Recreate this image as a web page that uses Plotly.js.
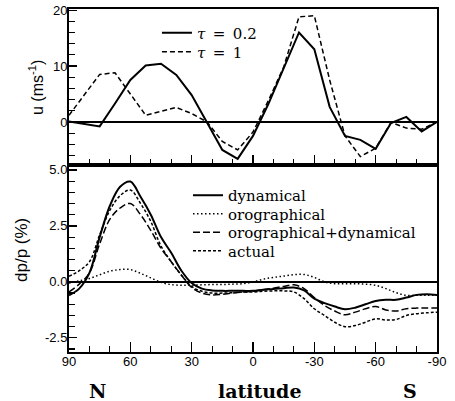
<!DOCTYPE html>
<html>
<head>
<meta charset="utf-8">
<script src="https://cdn.plot.ly/plotly-3.0.1.min.js"></script>
<style>html,body{margin:0;padding:0;background:#fff;}#chart{width:455px;height:401px;}</style>
</head>
<body>
<div id="chart"></div>
<script>
// Top panel: zonal wind u (m/s), sampled every 7.5 degrees latitude
const latTop = [90, 82.5, 75, 67.5, 60, 52.5, 45, 37.5, 30, 22.5, 15, 7.5, 0, -7.5, -15, -22.5, -30, -37.5, -45, -52.5, -60, -67.5, -75, -82.5, -90];
const uTau02 = [0.1, -0.4, -0.8, 3.3, 7.5, 10.1, 10.4, 8.4, 4.8, -0.1, -5.0, -6.6, -2.5, 3.2, 9.5, 16.0, 13.0, 2.7, -2.5, -3.2, -4.8, -0.2, 0.9, -1.7, 0.0];
const uTau1  = [1.2, 4.9, 8.5, 8.8, 5.1, 1.2, 1.9, 2.6, 1.5, 0.0, -3.5, -5.0, -1.8, 3.8, 9.8, 18.8, 19.0, 7.5, -2.5, -6.2, -4.7, -0.1, -1.1, -1.3, 0.0];

// Bottom panel: dp/p (%), sampled every 5 degrees latitude
const latBot = [90, 85, 80, 75, 70, 65, 60, 55, 50, 45, 40, 35, 30, 25, 20, 15, 10, 5, 0, -5, -10, -15, -20, -25, -30, -35, -40, -45, -50, -55, -60, -65, -70, -75, -80, -85, -90];
const dynamical = [-0.6, -0.3, 0.4, 2.0, 3.4, 4.25, 4.48, 3.8, 3.0, 2.0, 1.3, 0.5, -0.05, -0.3, -0.38, -0.4, -0.4, -0.4, -0.4, -0.35, -0.32, -0.28, -0.25, -0.38, -0.75, -0.95, -1.1, -1.22, -1.15, -1.0, -0.85, -0.8, -0.8, -0.7, -0.58, -0.55, -0.58];
const orographical = [-0.05, 0.05, 0.15, 0.32, 0.48, 0.55, 0.55, 0.38, 0.18, -0.02, -0.12, -0.15, -0.15, -0.13, -0.12, -0.12, -0.1, -0.08, 0.0, 0.12, 0.2, 0.26, 0.32, 0.33, 0.2, 0.0, -0.08, -0.08, -0.08, -0.1, -0.15, -0.3, -0.48, -0.6, -0.6, -0.6, -0.6];
const orogDyn = [-0.45, -0.1, 0.4, 1.7, 2.8, 3.3, 3.5, 3.0, 2.3, 1.5, 0.9, 0.3, -0.25, -0.5, -0.58, -0.55, -0.5, -0.45, -0.42, -0.35, -0.28, -0.2, -0.13, -0.3, -0.7, -1.05, -1.3, -1.47, -1.35, -1.2, -1.1, -1.25, -1.3, -1.2, -1.17, -1.17, -1.17];
const actual = [0.25, 0.5, 0.9, 2.1, 3.2, 3.85, 4.1, 3.5, 2.7, 1.6, 0.9, 0.3, -0.2, -0.42, -0.5, -0.5, -0.48, -0.45, -0.45, -0.42, -0.4, -0.4, -0.45, -0.75, -1.2, -1.5, -1.8, -2.0, -1.95, -1.8, -1.65, -1.7, -1.68, -1.5, -1.42, -1.38, -1.35];

// Tick labels
const xTickVals = [90, 60, 30, 0, -30, -60, -90];
const xTickText = ["90", "60", "30", "0", "-30", "-60", "-90"];
const yTopVals = [0, 10, 20];
const yTopText = ["0", "10", "20"];
const yBotVals = [-2.5, 0, 2.5, 5];
const yBotText = ["-2.5", "0.0", "2.5", "5.0"];

const serif = "DejaVu Serif";
const sans = "Liberation Sans";
const SP = "\u2002";

const traces = [
  {x: latTop, y: uTau02, xaxis: 'x2', yaxis: 'y', mode: 'lines', name: '<i>τ</i>' + SP + '=' + SP + '0.2',
   line: {color: '#000', width: 2}, legend: 'legend'},
  {x: latTop, y: uTau1, xaxis: 'x2', yaxis: 'y', mode: 'lines', name: '<i>τ</i>' + SP + '=' + SP + '1',
   line: {color: '#000', width: 1.5, dash: '5px,3px'}, legend: 'legend2'},
  {x: latBot, y: dynamical, xaxis: 'x', yaxis: 'y2', mode: 'lines', name: 'dynamical',
   line: {color: '#000', width: 2, shape: 'spline'}, legend: 'legend3'},
  {x: latBot, y: orographical, xaxis: 'x', yaxis: 'y2', mode: 'lines', name: 'orographical',
   line: {color: '#000', width: 1.5, dash: '1.5px,2.5px', shape: 'spline'}, legend: 'legend4'},
  {x: latBot, y: orogDyn, xaxis: 'x', yaxis: 'y2', mode: 'lines', name: 'orographical+dynamical',
   line: {color: '#000', width: 1.5, dash: '7px,3px', shape: 'spline'}, legend: 'legend5'},
  {x: latBot, y: actual, xaxis: 'x', yaxis: 'y2', mode: 'lines', name: 'actual',
   line: {color: '#000', width: 1.5, dash: '3px,2px', shape: 'spline'}, legend: 'legend6'}
];

const axisCommon = {
  showline: true, linecolor: '#000', linewidth: 2, mirror: true,
  showgrid: false, ticks: 'inside', tickcolor: '#000', tickwidth: 1.2,
  tickfont: {family: sans, size: 13, color: '#000'}
};

function legendAt(x, y) {
  return {
    x: x, y: y, xanchor: 'left', yanchor: 'middle',
    bgcolor: 'rgba(0,0,0,0)', borderwidth: 0,
    font: {family: serif, size: 15, color: '#000'},
    tracegroupgap: 0, itemwidth: 30
  };
}

const splitY = 0.5452;

const layout = {
  width: 455, height: 401,
  margin: {l: 69, r: 18, t: 9, b: 49, pad: 0},
  paper_bgcolor: '#fff', plot_bgcolor: '#fff',
  showlegend: true,
  xaxis: Object.assign({}, axisCommon, {
    domain: [0, 1], anchor: 'y2', range: [90, -90], zeroline: false,
    tickmode: 'array', tickvals: xTickVals, ticktext: xTickText, ticklen: 10,
    ticklabelstandoff: -4,
    minor: {dtick: 10, ticklen: 6, ticks: 'inside', tickcolor: '#000', tickwidth: 1.2, showgrid: false}
  }),
  xaxis2: Object.assign({}, axisCommon, {
    domain: [0, 1], anchor: 'y', range: [90, -90], zeroline: false, showticklabels: false,
    tickmode: 'array', tickvals: xTickVals, ticklen: 10,
    minor: {dtick: 10, ticklen: 6, ticks: 'inside', tickcolor: '#000', tickwidth: 1.2, showgrid: false}
  }),
  yaxis: Object.assign({}, axisCommon, {
    domain: [splitY, 1], anchor: 'x2', range: [-7.7, 20.2],
    tickmode: 'array', tickvals: yTopVals, ticktext: yTopText, ticklen: 8,
    ticklabelstandoff: -3,
    zeroline: true, zerolinecolor: '#000', zerolinewidth: 1.8,
    minor: {dtick: 2, ticklen: 6, ticks: 'inside', tickcolor: '#000', tickwidth: 1.2, showgrid: false}
  }),
  yaxis2: Object.assign({}, axisCommon, {
    domain: [0, splitY], anchor: 'x', range: [-3.13, 5.22],
    tickmode: 'array', tickvals: yBotVals, ticktext: yBotText, ticklen: 8,
    ticklabelstandoff: -3,
    zeroline: true, zerolinecolor: '#000', zerolinewidth: 1.8,
    minor: {dtick: 0.5, ticklen: 6, ticks: 'inside', tickcolor: '#000', tickwidth: 1.2, showgrid: false}
  }),
  legend: legendAt(0.239, 0.930),
  legend2: legendAt(0.239, 0.8746),
  legend3: legendAt(0.3234, 0.4563),
  legend4: legendAt(0.3234, 0.4023),
  legend5: legendAt(0.3234, 0.3484),
  legend6: legendAt(0.3234, 0.2945),
  annotations: [
    {text: 'u (ms<sup>-1</sup>)', xref: 'paper', yref: 'paper', x: -0.0897, y: 0.7726,
     textangle: -90, showarrow: false, xanchor: 'center', yanchor: 'middle',
     font: {family: sans, size: 16, color: '#000'}},
    {text: 'dp/p (%)', xref: 'paper', yref: 'paper', x: -0.1277, y: 0.2974,
     textangle: -90, showarrow: false, xanchor: 'center', yanchor: 'middle',
     font: {family: sans, size: 17, color: '#000'}},
    {text: '<b>N</b>', xref: 'paper', yref: 'paper', x: 0.0761, y: -0.1137,
     showarrow: false, xanchor: 'center', yanchor: 'middle',
     font: {family: 'DejaVu Serif', size: 19, color: '#000'}},
    {text: '<b>latitude</b>', xref: 'paper', yref: 'paper', x: 0.519, y: -0.1137,
     showarrow: false, xanchor: 'center', yanchor: 'middle',
     font: {family: 'DejaVu Serif', size: 19, color: '#000'}},
    {text: '<b>S</b>', xref: 'paper', yref: 'paper', x: 0.9266, y: -0.1137,
     showarrow: false, xanchor: 'center', yanchor: 'middle',
     font: {family: 'DejaVu Serif', size: 19, color: '#000'}}
  ]
};

Plotly.newPlot('chart', traces, layout, {displayModeBar: false, staticPlot: true});
</script>
</body>
</html>
